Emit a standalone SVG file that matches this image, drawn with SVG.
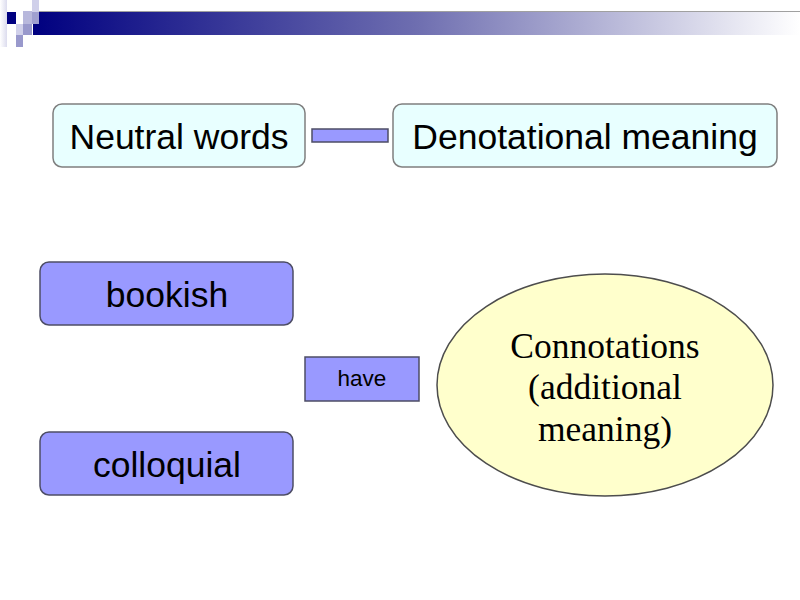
<svg xmlns="http://www.w3.org/2000/svg" width="800" height="600" viewBox="0 0 800 600">
<defs>
<linearGradient id="bar" x1="0" y1="0" x2="1" y2="0">
<stop offset="0" stop-color="#000080"/>
<stop offset="0.5" stop-color="#6e6eb0"/>
<stop offset="1" stop-color="#ffffff"/>
</linearGradient>
<linearGradient id="edge" x1="0" y1="0" x2="1" y2="0">
<stop offset="0" stop-color="#ffffff"/>
<stop offset="1" stop-color="#dcdcee"/>
</linearGradient>
<style>
.cyan{fill:#e8ffff;stroke:#7f7f7f;stroke-width:1.5}
.blue{fill:#9999ff;stroke:#4d4d66;stroke-width:1.5}
.sans{font-family:"Liberation Sans",Arial,sans-serif;fill:#000;text-anchor:middle}
.serif{font-family:"Liberation Serif","Times New Roman",serif;fill:#000;text-anchor:middle;font-size:35.5px}
</style>
</defs>
<g id="header">
<rect x="0" y="0" width="7" height="47" fill="url(#edge)"/>
<rect x="33" y="11" width="767" height="24" fill="url(#bar)"/>
<line x1="33" y1="11.5" x2="800" y2="11.5" stroke="#a0a0a0" stroke-width="1"/>
<rect x="7" y="12" width="9" height="12" fill="#000080"/>
<rect x="23" y="11" width="9" height="13" fill="#b8b8dc"/>
<rect x="32" y="0" width="7" height="12" fill="#d0d0ea"/>
<rect x="32" y="12" width="7" height="12" fill="#a0a0d0"/>
<rect x="16" y="24" width="7" height="11" fill="#d0d0ea"/>
<rect x="23" y="24" width="9" height="11" fill="#9999cc"/>
<rect x="16" y="35" width="7" height="12" fill="#9999cc"/>
</g>
<g id="neutral">
<rect class="cyan" x="53" y="104" width="252" height="63" rx="9"/>
<text class="sans" x="179" y="149" font-size="35.5">Neutral words</text>
</g>
<g id="connectors">
<rect class="blue" x="312" y="129" width="76" height="13"/>
</g>
<g id="denotational">
<rect class="cyan" x="393" y="104" width="384" height="63" rx="9"/>
<text class="sans" x="585" y="149" font-size="35.5">Denotational meaning</text>
</g>
<g id="bookish">
<rect class="blue" x="40" y="262" width="253" height="63" rx="9"/>
<text class="sans" x="167" y="307" font-size="35.5">bookish</text>
</g>
<g id="colloquial">
<rect class="blue" x="40" y="432" width="253" height="63" rx="9"/>
<text class="sans" x="167" y="477" font-size="35.5">colloquial</text>
</g>
<g id="have">
<rect class="blue" x="305" y="357" width="114" height="44"/>
<text class="sans" x="362" y="386" font-size="22.5">have</text>
</g>
<g id="connotations">
<ellipse cx="605" cy="385" rx="168" ry="111" fill="#ffffcc" stroke="#4d4d4d" stroke-width="1.5"/>
<text class="serif" x="605" y="358">Connotations</text>
<text class="serif" x="605" y="399">(additional</text>
<text class="serif" x="605" y="441">meaning)</text>
</g>
</svg>
